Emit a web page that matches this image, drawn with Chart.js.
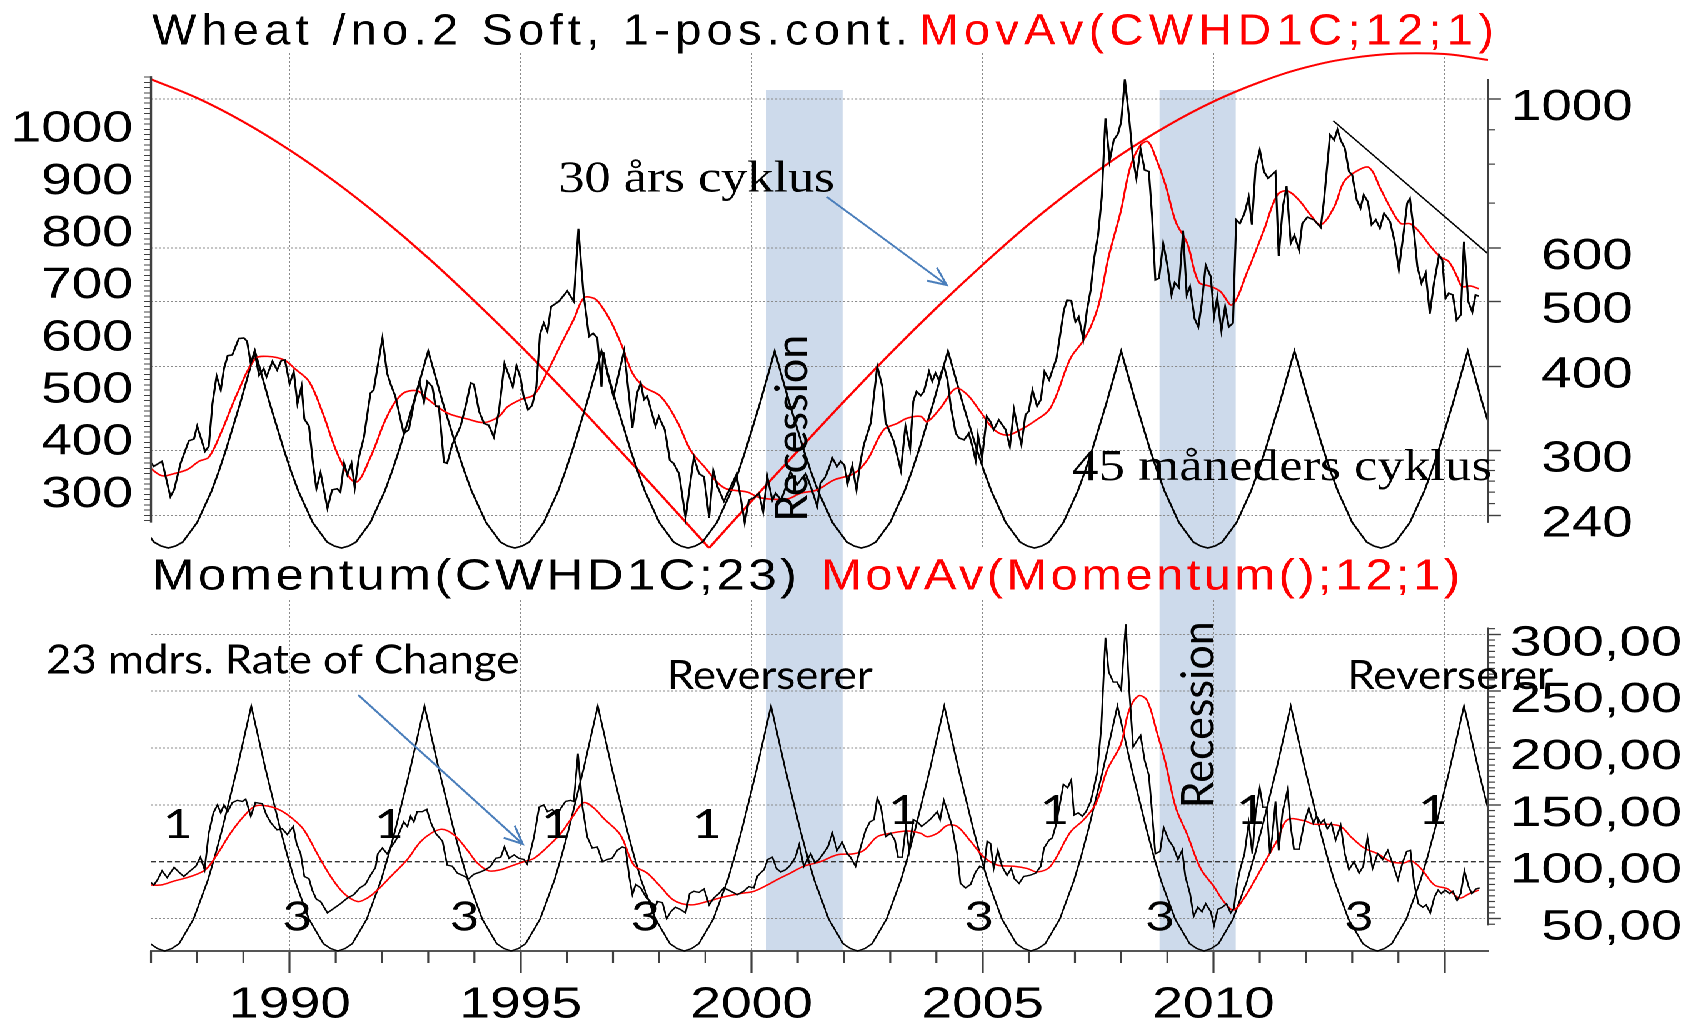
<!DOCTYPE html>
<html>
<head>
<meta charset="utf-8">
<title>Wheat /no.2 Soft – cykler</title>
<script src="https://cdn.jsdelivr.net/npm/chart.js@4.4.1/dist/chart.umd.min.js"></script>
<style>
  html, body { margin: 0; padding: 0; background: #fff; overflow: hidden; }
  /* the original picture is stretched sideways, so the charts are drawn narrow and widened */
  #wrap { width: 1358px; height: 1018px; transform: scaleX(1.250368); transform-origin: 0 0; }
  .panel { position: relative; width: 1358px; }
  #top { height: 550px; }
  #bottom { height: 468px; }
</style>
</head>
<body>
<div id="wrap">
  <div class="panel" id="top"><canvas id="topChart"></canvas></div>
  <div class="panel" id="bottom"><canvas id="bottomChart"></canvas></div>
</div>
<script>
const SX = 1698 / 1358;
const L = v => v / SX;   // picture px -> chart px (horizontal only)

// ---------- data (year, value) ----------
// Wheat no.2 soft, 1-pos. continuation (cents/bu)
const priceSeries = [[1986.99,288],[1987.06,284],[1987.24,289],[1987.42,256],[1987.50,262],[1987.64,287],[1987.82,310],[1987.93,312],[1988.00,326],[1988.17,299],[1988.25,304],[1988.33,352],[1988.42,387],[1988.51,369],[1988.58,397],[1988.66,415],[1988.76,416],[1988.90,440],[1989.01,441],[1989.08,436],[1989.16,404],[1989.24,421],[1989.34,388],[1989.44,397],[1989.50,386],[1989.63,407],[1989.73,395],[1989.82,408],[1989.90,409],[1990.00,377],[1990.09,393],[1990.17,352],[1990.26,374],[1990.32,334],[1990.42,326],[1990.50,290],[1990.58,263],[1990.67,278],[1990.82,246],[1990.92,262],[1991.03,263],[1991.10,260],[1991.18,287],[1991.25,276],[1991.34,287],[1991.41,264],[1991.50,293],[1991.61,314],[1991.75,365],[1991.82,369],[1992.01,441],[1992.11,391],[1992.19,376],[1992.29,361],[1992.47,318],[1992.58,322],[1992.69,352],[1992.81,380],[1992.91,354],[1992.98,380],[1993.09,373],[1993.16,349],[1993.23,349],[1993.34,288],[1993.41,287],[1993.52,306],[1993.70,326],[1993.81,349],[1993.92,378],[1993.99,376],[1994.10,343],[1994.21,329],[1994.31,327],[1994.42,314],[1994.53,343],[1994.65,404],[1994.75,387],[1994.83,373],[1994.91,401],[1995.00,384],[1995.06,362],[1995.16,345],[1995.25,350],[1995.34,373],[1995.42,447],[1995.50,464],[1995.58,451],[1995.66,491],[1995.83,500],[1996.01,518],[1996.15,500],[1996.25,641],[1996.36,514],[1996.48,443],[1996.57,448],[1996.66,441],[1996.75,373],[1996.79,420],[1996.88,390],[1997.01,361],[1997.24,422],[1997.42,324],[1997.52,365],[1997.60,378],[1997.67,357],[1997.74,361],[1997.92,326],[1997.99,337],[1998.12,322],[1998.23,290],[1998.31,287],[1998.43,277],[1998.57,238],[1998.67,268],[1998.75,293],[1998.86,277],[1998.97,274],[1999.08,238],[1999.17,280],[1999.26,265],[1999.40,252],[1999.55,265],[1999.67,276],[1999.76,256],[1999.85,234],[1999.94,253],[2000.05,255],[2000.16,259],[2000.25,243],[2000.34,274],[2000.45,253],[2000.52,259],[2000.64,253],[2000.77,268],[2000.84,279],[2000.99,267],[2001.17,277],[2001.28,265],[2001.42,248],[2001.49,268],[2001.60,274],[2001.67,282],[2001.75,292],[2001.85,284],[2001.93,289],[2002.01,285],[2002.08,268],[2002.18,285],[2002.27,262],[2002.36,290],[2002.43,306],[2002.58,330],[2002.72,400],[2002.83,373],[2002.90,330],[2002.97,322],[2003.08,309],[2003.23,280],[2003.33,326],[2003.43,302],[2003.50,355],[2003.57,367],[2003.66,362],[2003.73,367],[2003.84,393],[2003.91,380],[2003.98,391],[2004.05,382],[2004.16,401],[2004.24,382],[2004.31,349],[2004.42,318],[2004.49,313],[2004.60,311],[2004.70,318],[2004.78,304],[2004.85,290],[2004.90,316],[2004.99,292],[2005.09,337],[2005.17,331],[2005.24,322],[2005.35,333],[2005.50,322],[2005.59,304],[2005.68,345],[2005.75,326],[2005.84,306],[2005.93,339],[2006.00,343],[2006.08,369],[2006.18,349],[2006.26,357],[2006.34,393],[2006.44,382],[2006.60,411],[2006.76,485],[2006.83,502],[2006.92,501],[2007.01,466],[2007.08,474],[2007.18,439],[2007.26,485],[2007.34,520],[2007.41,576],[2007.50,627],[2007.58,715],[2007.66,936],[2007.75,809],[2007.84,869],[2007.93,887],[2008.00,925],[2008.08,1070],[2008.17,941],[2008.25,821],[2008.33,762],[2008.42,842],[2008.51,784],[2008.60,780],[2008.67,668],[2008.74,538],[2008.82,541],[2008.91,610],[2009.00,566],[2009.09,511],[2009.16,533],[2009.25,524],[2009.34,637],[2009.42,511],[2009.49,526],[2009.59,471],[2009.67,458],[2009.75,500],[2009.83,566],[2009.94,544],[2010.01,475],[2010.08,507],[2010.17,452],[2010.25,491],[2010.33,458],[2010.42,464],[2010.49,661],[2010.57,653],[2010.67,676],[2010.76,715],[2010.83,650],[2010.91,791],[2011.00,840],[2011.09,780],[2011.18,762],[2011.34,780],[2011.41,584],[2011.50,691],[2011.58,742],[2011.67,610],[2011.75,627],[2011.85,596],[2011.92,653],[2012.03,667],[2012.17,661],[2012.32,644],[2012.39,707],[2012.45,784],[2012.52,884],[2012.61,869],[2012.68,901],[2012.75,869],[2012.84,845],[2012.93,780],[2013.00,771],[2013.10,707],[2013.18,688],[2013.25,720],[2013.34,703],[2013.42,650],[2013.51,661],[2013.60,642],[2013.69,676],[2013.82,657],[2013.92,613],[2014.01,557],[2014.12,638],[2014.19,700],[2014.25,711],[2014.34,631],[2014.41,563],[2014.50,532],[2014.59,551],[2014.68,479],[2014.77,532],[2014.88,586],[2014.95,576],[2015.02,505],[2015.09,514],[2015.18,511],[2015.26,469],[2015.35,477],[2015.42,613],[2015.51,500],[2015.60,482],[2015.67,511],[2015.74,509]];

// MovAv(CWHD1C;12;1)
const priceMovAv = [[1986.99,282],[1987.24,275],[1987.50,277],[1987.79,281],[1988.04,289],[1988.25,293],[1988.51,318],[1988.87,365],[1989.26,411],[1989.52,414],[1989.88,409],[1990.13,396],[1990.42,380],[1990.71,342],[1991.07,293],[1991.43,269],[1991.75,293],[1992.11,337],[1992.44,364],[1992.76,368],[1992.98,358],[1993.41,341],[1993.85,334],[1994.21,330],[1994.53,337],[1994.71,348],[1995.00,357],[1995.29,363],[1995.58,393],[1995.87,431],[1996.15,470],[1996.37,506],[1996.59,505],[1996.73,494],[1996.95,467],[1997.20,428],[1997.42,391],[1997.67,373],[1998.03,361],[1998.39,331],[1998.68,300],[1998.97,284],[1999.40,264],[1999.91,260],[2000.19,255],[2000.77,254],[2001.06,259],[2001.42,262],[2001.78,271],[2002.21,277],[2002.50,290],[2002.86,322],[2003.15,329],[2003.37,335],[2003.66,337],[2003.80,331],[2004.09,347],[2004.42,371],[2004.67,363],[2004.96,342],[2005.25,322],[2005.53,316],[2005.82,322],[2006.11,331],[2006.47,347],[2006.90,411],[2007.16,435],[2007.34,458],[2007.52,496],[2007.73,583],[2007.99,680],[2008.20,793],[2008.42,854],[2008.58,864],[2008.74,821],[2008.96,745],[2009.18,657],[2009.43,610],[2009.68,534],[2009.94,526],[2010.15,517],[2010.40,494],[2010.73,553],[2011.09,638],[2011.38,720],[2011.59,730],[2011.85,707],[2012.10,672],[2012.32,650],[2012.61,691],[2012.82,753],[2013.08,780],[2013.36,791],[2013.61,736],[2013.83,688],[2014.05,653],[2014.26,652],[2014.48,631],[2014.70,603],[2014.91,582],[2015.09,573],[2015.27,544],[2015.38,526],[2015.56,527],[2015.74,522]];

// Momentum(CWHD1C;23)
const momentumSeries = [[1986.99,82],[1987.06,79.5],[1987.14,84],[1987.24,92],[1987.35,86],[1987.50,95],[1987.60,91],[1987.71,87],[1987.82,91],[1987.97,96],[1988.07,104],[1988.16,93],[1988.25,125],[1988.35,143],[1988.44,150],[1988.51,143],[1988.58,150],[1988.66,144],[1988.76,152],[1988.87,154],[1988.98,153],[1989.05,155],[1989.16,140],[1989.26,152],[1989.41,151],[1989.50,141],[1989.60,134],[1989.73,128],[1989.84,129],[1989.95,124],[1990.08,131],[1990.15,116],[1990.24,107],[1990.32,87],[1990.42,85],[1990.49,75],[1990.58,67],[1990.67,65],[1990.82,55],[1990.96,59],[1991.10,63],[1991.25,68],[1991.39,71],[1991.52,77],[1991.64,80],[1991.75,88],[1991.86,95],[1991.91,107],[1992.01,112],[1992.11,107],[1992.20,113],[1992.29,118],[1992.37,125],[1992.47,135],[1992.55,131],[1992.62,140],[1992.69,135],[1992.76,144],[1992.87,144],[1992.97,146],[1993.05,135],[1993.16,125],[1993.31,118],[1993.41,97],[1993.52,96],[1993.63,90],[1993.74,88],[1993.88,85],[1993.99,89],[1994.13,91],[1994.24,93],[1994.35,96],[1994.46,103],[1994.57,104],[1994.65,113],[1994.75,103],[1994.86,106],[1994.96,103],[1995.07,102],[1995.14,98],[1995.22,110],[1995.29,122],[1995.40,148],[1995.50,150],[1995.58,144],[1995.69,146],[1995.78,140],[1995.87,147],[1995.97,153],[1996.08,154],[1996.15,153],[1996.24,195],[1996.34,148],[1996.44,122],[1996.55,112],[1996.66,113],[1996.77,100],[1996.88,102],[1996.98,103],[1997.09,110],[1997.20,113],[1997.27,112],[1997.35,87],[1997.42,71],[1997.49,80],[1997.60,77],[1997.71,69],[1997.81,65],[1997.89,58],[1997.96,65],[1998.07,64],[1998.16,50],[1998.25,56],[1998.35,60],[1998.46,58],[1998.57,55],[1998.66,72],[1998.75,74],[1998.86,73],[1998.97,76],[1999.08,62],[1999.18,68],[1999.29,72],[1999.40,77],[1999.55,74],[1999.69,71],[1999.83,74],[1999.94,78],[2000.05,77],[2000.12,87],[2000.19,90],[2000.27,93],[2000.35,102],[2000.45,104],[2000.54,94],[2000.63,91],[2000.74,93],[2000.84,97],[2000.95,104],[2001.03,115],[2001.13,96],[2001.21,102],[2001.28,107],[2001.37,99],[2001.46,102],[2001.55,107],[2001.65,113],[2001.75,125],[2001.85,110],[2001.96,117],[2002.07,107],[2002.14,104],[2002.25,96],[2002.36,113],[2002.47,128],[2002.56,135],[2002.65,137],[2002.72,156],[2002.80,148],[2002.90,122],[2003.01,125],[2003.10,119],[2003.17,104],[2003.26,104],[2003.34,131],[2003.41,110],[2003.50,137],[2003.59,135],[2003.68,131],[2003.77,134],[2003.86,137],[2003.93,140],[2004.02,144],[2004.08,137],[2004.16,154],[2004.25,143],[2004.34,131],[2004.45,107],[2004.52,81],[2004.63,77],[2004.74,80],[2004.85,91],[2004.94,96],[2005.03,94],[2005.10,118],[2005.17,116],[2005.24,94],[2005.33,110],[2005.42,96],[2005.53,88],[2005.62,94],[2005.69,85],[2005.79,81],[2005.89,87],[2006.02,88],[2006.15,90],[2006.26,96],[2006.33,112],[2006.44,119],[2006.51,121],[2006.58,131],[2006.66,148],[2006.75,168],[2006.84,165],[2006.92,172],[2006.98,141],[2007.07,143],[2007.16,140],[2007.24,144],[2007.34,153],[2007.41,165],[2007.48,178],[2007.57,219],[2007.66,297],[2007.73,267],[2007.83,258],[2007.91,258],[2008.00,251],[2008.10,309],[2008.17,254],[2008.26,201],[2008.35,207],[2008.42,211],[2008.51,189],[2008.60,176],[2008.67,143],[2008.74,107],[2008.84,109],[2008.92,130],[2009.03,119],[2009.13,113],[2009.23,102],[2009.32,110],[2009.39,87],[2009.49,72],[2009.57,52],[2009.66,60],[2009.75,56],[2009.83,63],[2009.94,56],[2010.01,44],[2010.09,58],[2010.19,60],[2010.28,63],[2010.37,55],[2010.44,59],[2010.51,81],[2010.58,94],[2010.67,107],[2010.76,134],[2010.84,107],[2010.91,143],[2011.00,165],[2011.07,148],[2011.15,148],[2011.22,107],[2011.27,122],[2011.34,153],[2011.41,110],[2011.49,143],[2011.60,163],[2011.67,131],[2011.74,111],[2011.85,111],[2011.96,134],[2012.06,147],[2012.16,134],[2012.23,140],[2012.32,134],[2012.39,137],[2012.46,129],[2012.55,134],[2012.64,119],[2012.75,132],[2012.84,107],[2012.93,93],[2013.04,100],[2013.15,90],[2013.24,96],[2013.33,121],[2013.44,94],[2013.55,107],[2013.66,102],[2013.77,110],[2013.87,99],[2013.99,84],[2014.09,99],[2014.18,109],[2014.26,110],[2014.34,81],[2014.43,63],[2014.53,60],[2014.60,62],[2014.69,55],[2014.78,69],[2014.86,75],[2014.93,72],[2015.01,75],[2015.11,72],[2015.18,74],[2015.27,66],[2015.35,72],[2015.43,92],[2015.52,78],[2015.59,72],[2015.68,76],[2015.76,77]];

// MovAv(Momentum();12;1)
const momentumMovAv = [[1986.99,79.5],[1987.21,79.5],[1987.50,83],[1987.86,87],[1988.18,93],[1988.44,107],[1988.72,125],[1989.01,140],[1989.26,149],[1989.52,149],[1989.81,145],[1990.09,137],[1990.31,128],[1990.60,107],[1990.89,87],[1991.18,72],[1991.47,65],[1991.68,68],[1991.90,75],[1992.19,87],[1992.55,102],[1992.87,119],[1993.27,128.5],[1993.56,123.5],[1993.85,110],[1994.06,99],[1994.31,92],[1994.57,93],[1994.78,96],[1995.07,100],[1995.29,103],[1995.58,113],[1995.87,125],[1996.15,141],[1996.37,152],[1996.59,147],[1996.80,138],[1997.16,123.5],[1997.45,97],[1997.74,90],[1998.03,78],[1998.32,66],[1998.68,62],[1999.04,65],[1999.40,69],[1999.76,72],[2000.05,74],[2000.34,79.5],[2000.59,85],[2000.84,90],[2001.13,96],[2001.49,100],[2001.85,106],[2002.21,107],[2002.43,110],[2002.72,122],[2003.01,125],[2003.37,127],[2003.66,125],[2003.80,122],[2004.02,125],[2004.24,132],[2004.45,131],[2004.74,118],[2005.03,104],[2005.32,97],[2005.68,96],[2005.97,94],[2006.19,91],[2006.47,96],[2006.90,126],[2007.19,137],[2007.45,151],[2007.70,181],[2007.99,203],[2008.17,233],[2008.38,246],[2008.56,242],[2008.78,213],[2008.96,187],[2009.18,148],[2009.43,124],[2009.72,94],[2010.01,78],[2010.22,65],[2010.43,57.5],[2010.66,68],[2010.91,85],[2011.17,104],[2011.38,119],[2011.60,137],[2011.96,136],[2012.17,133],[2012.46,133],[2012.75,131],[2012.97,122],[2013.26,112],[2013.55,107],[2013.84,100],[2014.13,99],[2014.27,101],[2014.49,94],[2014.78,79.5],[2015.07,76],[2015.32,68],[2015.54,72],[2015.74,75]];

// 30 års cyklus (0 = bund, 1 = top), falling and rising leg
const longCycleDown = [[1987,0.947],[1988,0.909],[1989,0.861],[1990,0.804],[1991,0.739],[1992,0.666],[1993,0.586],[1994,0.499],[1995,0.408],[1996,0.312],[1997,0.212],[1998,0.111],[1999.08,0]];
const longCycleUp = [[1999.08,0],[2000,0.095],[2001,0.196],[2002,0.296],[2003,0.393],[2004,0.485],[2005,0.572],[2006,0.654],[2007,0.728],[2008,0.795],[2009,0.853],[2010,0.902],[2011,0.941],[2012,0.971],[2013,0.990],[2014,0.999],[2015,0.998],[2015.94,0.986]];

// 45 måneders cyklus: tops and the shape of one half wave (top -> bottom)
const cyclePeaksTop = [1985.5, 1989.25, 1993.0, 1996.75, 2000.5, 2004.25, 2008.0, 2011.75, 2015.5];
const cyclePeaksBottom = [1985.42, 1989.17, 1992.92, 1996.67, 2000.42, 2004.17, 2007.92, 2011.67, 2015.42];
const cycleShape = [1, 0.87, 0.74, 0.62, 0.50, 0.39, 0.29, 0.21, 0.13, 0.08, 0.03, 0.01, 0];
const cycleHalfYears = 1.875;

const trendLine = [[2012.59, 928], [2015.92, 590]];
const recessions = [[2000.32, 2001.97], [2008.83, 2010.48]];

const yearTicks = [1990, 1995, 2000, 2005, 2010, 2015];
const priceTicks = [240, 300, 400, 500, 600, 1000];
const priceMinorTicks = [250, 260, 270, 280, 290, 700, 800, 900];
const leftTickLabels = [300, 400, 500, 600, 700, 800, 900, 1000];
const momentumTicks = [50, 100, 150, 200, 250, 300];

// ---------- helpers ----------
const GRID = '#8a8a8a';
const AXIS = '#404040';
const BAND = '#cddaeb';
const BLUE = '#4a7ebb';
const SANS = '"Liberation Sans", Arial, sans-serif';

const pts = arr => arr.map(([x, y]) => ({x, y}));

function cycleSeries(peaks) {
  const step = cycleHalfYears / (cycleShape.length - 1);
  const out = [];
  peaks.forEach(p => {
    for (let k = cycleShape.length - 1; k > 0; k--) out.push({x: p - k * step, y: cycleShape[k]});
    out.push({x: p, y: cycleShape[0]});
    for (let k = 1; k < cycleShape.length; k++) out.push({x: p + k * step, y: cycleShape[k]});
  });
  return out.sort((a, b) => a.x - b.x);
}

function line(ctx, x1, y1, x2, y2) {
  ctx.beginPath(); ctx.moveTo(x1, y1); ctx.lineTo(x2, y2); ctx.stroke();
}

// text squeezed / widened to the width it has in the picture
function fitText(ctx, text, x, base, font, width, color, center, spacing) {
  ctx.save();
  ctx.font = font;
  ctx.fillStyle = color;
  ctx.textAlign = 'left';
  ctx.textBaseline = 'alphabetic';
  if (spacing) ctx.letterSpacing = spacing + 'px';
  const w = ctx.measureText(text).width - (spacing || 0);
  const wid = width || w * SX;
  ctx.translate(center ? x - wid / 2 : x, base);
  ctx.scale(wid / w, 1);
  ctx.fillText(text, 0, 0);
  ctx.restore();
}

function fitTextUp(ctx, text, xBase, yStart, font, length, color) {
  ctx.save();
  ctx.font = font;
  ctx.fillStyle = color;
  ctx.textBaseline = 'alphabetic';
  const w = ctx.measureText(text).width;
  ctx.translate(xBase, yStart);
  ctx.rotate(-Math.PI / 2);
  ctx.scale(length / w, 1);
  ctx.fillText(text, 0, 0);
  ctx.restore();
}

function arrow(ctx, x1, y1, x2, y2) {
  const a = Math.atan2(y2 - y1, x2 - x1), h = 20, s = 0.42;
  ctx.save();
  ctx.strokeStyle = BLUE;
  ctx.lineWidth = 2;
  ctx.beginPath();
  ctx.moveTo(x1, y1); ctx.lineTo(x2, y2);
  ctx.moveTo(x2 - h * Math.cos(a - s), y2 - h * Math.sin(a - s));
  ctx.lineTo(x2, y2);
  ctx.lineTo(x2 - h * Math.cos(a + s), y2 - h * Math.sin(a + s));
  ctx.stroke();
  ctx.restore();
}

function drawBands(chart, top, bottom) {
  const {ctx} = chart;
  const x = chart.scales.x;
  ctx.save();
  ctx.fillStyle = BAND;
  recessions.forEach(([a, b]) => {
    const x1 = x.getPixelForValue(a), x2 = x.getPixelForValue(b);
    ctx.fillRect(x1, top, x2 - x1, bottom - top);
  });
  ctx.restore();
}

// keep the axis labels from pushing the plot area in
function fixWidth(w) {
  return s => { s.width = w; s.paddingTop = 0; s.paddingBottom = 0; };
}

const lineDefaults = {
  pointRadius: 0,
  borderWidth: 1.6,
  fill: false,
  tension: 0,
  clip: {left: 0, right: 0, top: false, bottom: false}
};

const yearAxisTicks = s => { s.ticks = yearTicks.map(v => ({value: v})); };

// ---------- top panel: price ----------
const topDecor = {
  id: 'topDecor',
  beforeDraw(chart) { drawBands(chart, 90, chart.height); },
  afterDraw(chart) {
    const {ctx, chartArea: a} = chart;
    const yl = chart.scales.yLeft, yp = chart.scales.yPrice;
    ctx.save();
    ctx.strokeStyle = AXIS;
    ctx.lineWidth = 1.7;
    line(ctx, a.left, yl.getPixelForValue(1092), a.left, yl.getPixelForValue(236));
    line(ctx, a.right, yp.getPixelForValue(1071), a.right, yp.getPixelForValue(234));
    ctx.lineWidth = 1.2;
    priceMinorTicks.forEach(v => {
      const y = yp.getPixelForValue(v);
      line(ctx, a.right, y, a.right + L(7), y);
    });
    ctx.restore();

    ctx.save();
    ctx.scale(1 / SX, 1);
    fitText(ctx, 'Wheat /no.2 Soft, 1-pos.cont.', 152, 44.5, '44px ' + SANS, 756, '#000', false, 5);
    fitText(ctx, 'MovAv(CWHD1C;12;1)', 919.5, 44.5, '44px ' + SANS, 574.5, '#ff0000', false, 5);
    fitText(ctx, '30 års cyklus', 558.3, 191.7, '44px "Liberation Serif", serif', 276.4, '#000');
    arrow(ctx, 827, 197, 946.7, 285);
    fitText(ctx, '45 måneders cyklus', 1072, 480, '44px "Liberation Serif", serif', 420, '#000');
    fitTextUp(ctx, 'Recession', 807, 521.7, '45px Lato, sans-serif', 187, '#000');
    ctx.restore();
  }
};

new Chart(document.getElementById('topChart'), {
  type: 'line',
  data: {
    datasets: [
      {...lineDefaults, label: 'Wheat /no.2 Soft', data: pts(priceSeries), yAxisID: 'yPrice', borderColor: '#000', order: 1},
      {...lineDefaults, label: 'MovAv(CWHD1C;12;1)', data: pts(priceMovAv), yAxisID: 'yPrice', borderColor: '#ff0000', tension: 0.35, order: 2},
      {...lineDefaults, label: '45 måneders cyklus', data: cycleSeries(cyclePeaksTop), yAxisID: 'yCyc', borderColor: '#000', order: 3},
      {...lineDefaults, label: '30 års cyklus', data: pts(longCycleDown), yAxisID: 'yLong', borderColor: '#ff0000', borderWidth: 2, tension: 0.4, order: 4},
      {...lineDefaults, label: '30 års cyklus', data: pts(longCycleUp), yAxisID: 'yLong', borderColor: '#ff0000', borderWidth: 2, tension: 0.4, order: 4},
      {...lineDefaults, label: 'trend', data: pts(trendLine), yAxisID: 'yPrice', borderColor: '#000', borderWidth: 1.3, order: 0}
    ]
  },
  options: {
    responsive: true,
    maintainAspectRatio: false,
    animation: false,
    devicePixelRatio: 2,
    layout: {autoPadding: false, padding: {left: 0, right: L(65), top: 53, bottom: 2}},
    plugins: {legend: {display: false}, tooltip: {enabled: false}},
    scales: {
      x: {
        type: 'linear', min: 1987, max: 2015.94,
        afterBuildTicks: yearAxisTicks,
        afterFit: s => { s.height = 0; s.paddingLeft = 0; s.paddingRight = 0; },
        ticks: {display: false},
        grid: {color: GRID, lineWidth: 1, drawTicks: false},
        border: {display: false, dash: [2, 2]}
      },
      yLeft: {
        type: 'linear', position: 'left', min: 187.3, max: 1136.3,
        afterBuildTicks: s => {
          const t = [];
          for (let v = 240; v <= 1090; v += 10) t.push({value: v});
          s.ticks = t;
        },
        afterFit: fixWidth(L(151)),
        ticks: {
          autoSkip: false, padding: L(11), labelOffset: 5.5, color: '#000',
          font: {family: SANS, size: 44},
          callback: v => leftTickLabels.includes(v) ? String(v) : ''
        },
        grid: {drawOnChartArea: false, tickLength: L(7), tickColor: AXIS, tickWidth: 1},
        border: {display: false}
      },
      yPrice: {
        type: 'logarithmic', position: 'right', min: 214.7, max: 1170.8,
        afterBuildTicks: s => { s.ticks = priceTicks.map(v => ({value: v})); },
        afterFit: fixWidth(L(145)),
        ticks: {
          autoSkip: false, crossAlign: 'far', padding: 7.7, labelOffset: 9, color: '#000',
          font: {family: SANS, size: 44},
          callback: v => String(v)
        },
        grid: {color: GRID, lineWidth: 1, tickLength: L(13), tickColor: AXIS, tickWidth: 1.4},
        border: {display: false, dash: [1.6, 1.6]}
      },
      yCyc: {type: 'linear', display: false, min: 0, max: 2.5127},
      yLong: {type: 'linear', display: false, min: 0, max: 1}
    }
  },
  plugins: [topDecor]
});

// ---------- bottom panel: momentum ----------
const momentumLabel = v => v.toFixed(2).replace('.', ',');

const bottomDecor = {
  id: 'bottomDecor',
  beforeDraw(chart) { drawBands(chart, 0, chart.chartArea.bottom); },
  afterDraw(chart) {
    const {ctx, chartArea: a} = chart;
    const ym = chart.scales.yMom, x = chart.scales.x;
    ctx.save();
    ctx.strokeStyle = AXIS;
    ctx.lineWidth = 1.7;
    line(ctx, a.right, ym.getPixelForValue(306), a.right, ym.getPixelForValue(44));
    ctx.lineWidth = 1.2;
    for (let v = 45; v <= 305; v += 5) {
      if (v % 50 === 0) continue;
      const y = ym.getPixelForValue(v);
      line(ctx, a.right, y, a.right + L(7), y);
    }
    ctx.lineWidth = L(2);
    for (let yr = 1987; yr <= 2015; yr++) {
      if (yr % 5 === 0) continue;
      const px = x.getPixelForValue(yr);
      line(ctx, px, a.bottom, px, a.bottom + 12);
    }
    ctx.restore();

    // value labels of the momentum axis, right-aligned at the picture's edge
    ctx.save();
    ctx.scale(1 / SX, 1);
    ctx.font = '43px ' + SANS;
    const k = 172 / ctx.measureText(momentumLabel(300)).width;
    momentumTicks.forEach(v => {
      const s = momentumLabel(v);
      const w = ctx.measureText(s).width * k;
      fitText(ctx, s, 1682 - w, ym.getPixelForValue(v) + 21, '43px ' + SANS, w, '#000');
    });
    ctx.restore();

    ctx.save();
    ctx.scale(1 / SX, 1);
    ctx.translate(0, -550);
    fitText(ctx, 'Momentum(CWHD1C;23)', 152, 589.5, '44px ' + SANS, 645, '#000', false, 3);
    fitText(ctx, 'MovAv(Momentum();12;1)', 821, 589.5, '44px ' + SANS, 639, '#ff0000', false, 3);
    fitText(ctx, '23 mdrs. Rate of Change', 46, 673.3, '41px Lato, sans-serif', 473.3, '#000');
    arrow(ctx, 358.3, 695, 522.7, 844);
    fitText(ctx, 'Reverserer', 666.7, 689, '41px Lato, sans-serif', 206, '#000');
    fitText(ctx, 'Reverserer', 1347.3, 689, '41px Lato, sans-serif', 206, '#000');
    fitTextUp(ctx, 'Recession', 1213.3, 808.3, '45px Lato, sans-serif', 187, '#000');
    [[177.5, 838], [389, 838], [556, 838], [707, 838], [903, 824], [1054.5, 824], [1251, 824], [1433, 824]]
      .forEach(([cx, b]) => fitText(ctx, '1', cx, b, '41px Lato, sans-serif', null, '#000', true));
    [297.3, 464.5, 645.5, 979, 1160, 1359]
      .forEach(cx => fitText(ctx, '3', cx, 930.5, '41px Lato, sans-serif', null, '#000', true));
    ctx.restore();
  }
};

new Chart(document.getElementById('bottomChart'), {
  type: 'line',
  data: {
    datasets: [
      {...lineDefaults, label: 'Momentum(CWHD1C;23)', data: pts(momentumSeries), yAxisID: 'yMom', borderColor: '#000', borderWidth: 1.4, order: 1},
      {...lineDefaults, label: 'MovAv(Momentum();12;1)', data: pts(momentumMovAv), yAxisID: 'yMom', borderColor: '#ff0000', borderWidth: 1.5, tension: 0.35, order: 2},
      {...lineDefaults, label: '45 måneders cyklus', data: cycleSeries(cyclePeaksBottom), yAxisID: 'yCyc', borderColor: '#000', borderWidth: 1.4, order: 3}
    ]
  },
  options: {
    responsive: true,
    maintainAspectRatio: false,
    animation: false,
    devicePixelRatio: 2,
    layout: {autoPadding: false, padding: {left: L(151), right: 0, top: 50, bottom: 0}},
    plugins: {legend: {display: false}, tooltip: {enabled: false}},
    scales: {
      x: {
        type: 'linear', position: 'bottom', min: 1987, max: 2015.94,
        afterBuildTicks: yearAxisTicks,
        afterFit: s => { s.height = 67; s.paddingLeft = 0; s.paddingRight = 0; },
        ticks: {
          autoSkip: false, maxRotation: 0, padding: 6, color: '#000',
          font: {family: SANS, size: 44},
          callback: v => v === 2015 ? '' : String(v)
        },
        grid: {color: GRID, lineWidth: 1, tickLength: 22, tickColor: AXIS, tickWidth: L(2)},
        border: {display: true, color: '#555', width: 2, dash: [2, 2]}
      },
      yMom: {
        type: 'linear', position: 'right', min: 21.46, max: 330.2,
        afterBuildTicks: s => { s.ticks = momentumTicks.map(v => ({value: v})); },
        afterFit: fixWidth(L(210)),
        ticks: {display: false},
        grid: {
          color: c => (c.tick && c.tick.value === 100) ? '#333' : GRID,
          lineWidth: c => (c.tick && c.tick.value === 100) ? 1.4 : 1,
          tickLength: L(13), tickColor: AXIS, tickWidth: 1.4
        },
        border: {display: false, dash: c => (c.tick && c.tick.value === 100) ? [L(5), L(3)] : [1.6, 1.6]}
      },
      yCyc: {type: 'linear', display: false, min: 0, max: 1.4327}
    }
  },
  plugins: [bottomDecor]
});
</script>
</body>
</html>
